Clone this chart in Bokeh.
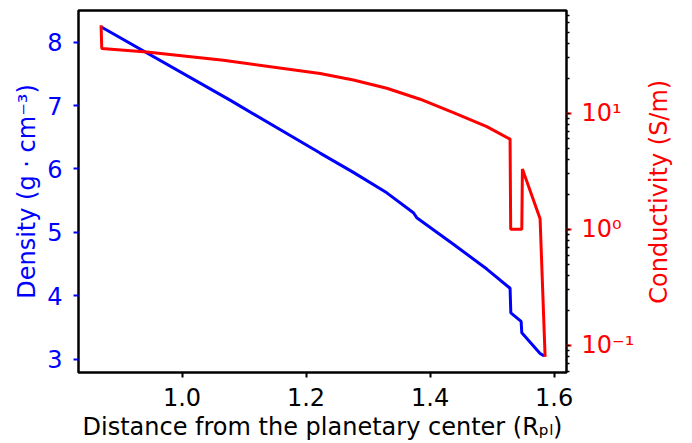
import math
from bokeh.plotting import figure
from bokeh.models import (Range1d, LogScale, LogAxis, LinearAxis, FixedTicker, LogTicker,
                          CustomJSTickFormatter, PrintfTickFormatter)
from bokeh.embed import file_html
from bokeh.resources import INLINE

# Density profile (g cm^-3) vs distance from planetary center (R_pl)
radius_density = [0.8705, 1.0774, 1.2226, 1.2763, 1.3302, 1.3731, 1.3785,
                  1.4376, 1.4915, 1.5290, 1.5302, 1.5468, 1.5479, 1.5774, 1.5839]
density = [8.235, 7.086, 6.251, 5.947, 5.624, 5.310, 5.232,
           4.813, 4.422, 4.119, 3.732, 3.596, 3.418, 3.089, 3.053]

# Conductivity profile (S/m)
radius_cond = [0.8694, 0.8705, 0.9431, 1.0666, 1.2226, 1.2763, 1.3302, 1.3839,
               1.4376, 1.4915, 1.5290, 1.5300, 1.5479, 1.5489, 1.5774, 1.5855]
conductivity = [57.2, 36.1, 33.7, 28.6, 22.0, 19.3, 16.4, 13.2,
                10.1, 7.67, 5.98, 1.0, 1.0, 3.31, 1.235, 0.0796]

x_ticks = [1.0, 1.2, 1.4, 1.6]
density_ticks = [3, 4, 5, 6, 7, 8]

FONT = "DejaVu Sans"
BLUE = "#0000ff"
RED = "#ff0000"

p = figure(width=692, height=443, output_backend="svg", toolbar_location=None,
           x_range=Range1d(0.833, 1.620), y_range=Range1d(2.79, 8.50),
           min_border_left=78, min_border_right=126, min_border_top=10,
           min_border_bottom=69)
p.extra_y_ranges = {"cond": Range1d(0.0584, 76.7)}
p.extra_y_scales = {"cond": LogScale()}

p.xgrid.grid_line_color = None
p.ygrid.grid_line_color = None
p.outline_line_color = "black"
p.outline_line_width = 2.5
p.background_fill_color = "white"
p.border_fill_color = "white"

p.line(radius_density, density, line_color=BLUE, line_width=3)
p.line(radius_cond, conductivity, line_color=RED, line_width=3, y_range_name="cond")

# bottom axis
xa = p.xaxis[0]
xa.ticker = FixedTicker(ticks=x_ticks)
xa.formatter = PrintfTickFormatter(format="%.1f")
xa.axis_label = "Distance from the planetary center (Rₚₗ)"

# left axis
ya = p.yaxis[0]
ya.ticker = FixedTicker(ticks=density_ticks)
ya.axis_label = "Density (g · cm⁻³)"

# right axis
ra = LogAxis(y_range_name="cond", ticker=LogTicker(num_minor_ticks=10),
             formatter=CustomJSTickFormatter(code="""
const e = Math.round(Math.log10(tick));
const sup = {"-":"\u207b","0":"\u2070","1":"\u00b9","2":"\u00b2","3":"\u00b3","4":"\u2074","5":"\u2075","6":"\u2076","7":"\u2077","8":"\u2078","9":"\u2079"};
return "10" + String(e).split("").map(c => sup[c]).join("");
"""))
p.add_layout(ra, "right")

for ax in [xa, ya, ra]:
    ax.axis_line_color = None
    ax.major_label_text_font = FONT
    ax.major_label_text_font_size = "24px"
    ax.axis_label_text_font = FONT
    ax.axis_label_text_font_size = "24px"
    ax.axis_label_text_font_style = "normal"
    ax.major_tick_in = 0
    ax.major_tick_out = 5
    ax.major_tick_line_width = 2

xa.minor_tick_line_color = None
ya.minor_tick_line_color = None
xa.major_label_text_color = "black"
xa.axis_label_text_color = "black"
xa.major_tick_line_color = "black"
xa.major_label_standoff = 10
xa.axis_label_standoff = 4

ya.major_label_text_color = BLUE
ya.axis_label_text_color = BLUE
ya.major_tick_line_color = BLUE
ya.major_label_standoff = 11
ya.axis_label_standoff = 3

ra.major_label_text_color = RED
ra.major_tick_line_color = RED
ra.minor_tick_line_color = "black"
ra.minor_tick_in = 0
ra.minor_tick_out = 3
ra.minor_tick_line_width = 1.5
ra.major_label_standoff = 10

# right-hand axis title, reading bottom to top as in the reference:
# drawn as the single rotated label of a bare axis placed outside the log axis
title_start = 3.875  # density-scale position where the rotated title begins
ta = LinearAxis(ticker=FixedTicker(ticks=[title_start]),
                formatter=CustomJSTickFormatter(code="return 'Conductivity (S/m)';"))
ta.axis_line_color = None
ta.major_tick_line_color = None
ta.minor_tick_line_color = None
ta.major_tick_out = 0
ta.major_label_orientation = math.pi / 2
ta.major_label_standoff = 22
ta.major_label_text_font = FONT
ta.major_label_text_font_size = "24px"
ta.major_label_text_color = RED
p.add_layout(ta, "right")

open("out.html", "w").write(file_html(p, INLINE))
